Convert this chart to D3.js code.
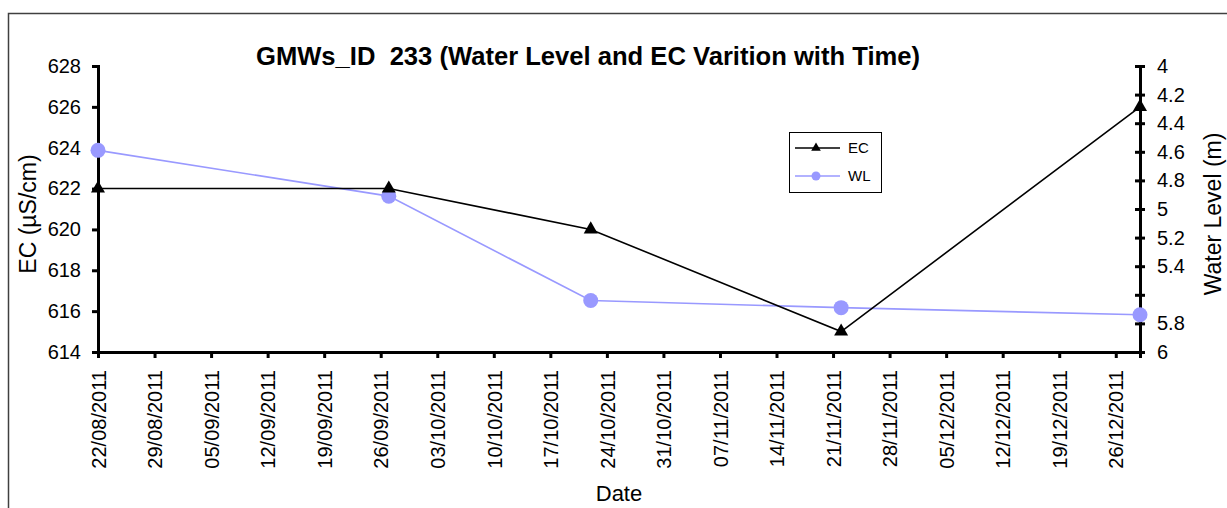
<!DOCTYPE html>
<html><head><meta charset="utf-8">
<script src="https://cdn.jsdelivr.net/npm/d3@7"></script>
<style>
html,body{margin:0;padding:0;background:#fff;}
text{font-family:"Liberation Sans",Arial,sans-serif;fill:#000;}
</style></head>
<body>
<svg id="chart" width="1227" height="508"></svg>
<script>
// ---- data ----
const dates = ["22/08/2011","27/09/2011","22/10/2011","22/11/2011","29/12/2011"];
const ecValues = [622, 622, 620, 615, 626];
const wlValues = [4.59, 4.91, 5.64, 5.69, 5.74];
const ecTicks = [614, 616, 618, 620, 622, 624, 626, 628];
const wlTicks = [4, 4.2, 4.4, 4.6, 4.8, 5, 5.2, 5.4, 5.6, 5.8, 6];
const wlHiddenLabels = [5.6];
const dateTicks = ["22/08/2011","29/08/2011","05/09/2011","12/09/2011","19/09/2011","26/09/2011","03/10/2011","10/10/2011","17/10/2011","24/10/2011","31/10/2011","07/11/2011","14/11/2011","21/11/2011","28/11/2011","05/12/2011","12/12/2011","19/12/2011","26/12/2011"];
const dateDomain = ["22/08/2011","29/12/2011"];
const titleText = "GMWs_ID  233 (Water Level and EC Varition with Time)";
const seriesNames = ["EC","WL"];

const parse = d3.timeParse("%d/%m/%Y");
const fmt = d3.timeFormat("%d/%m/%Y");
const svg = d3.select("#chart");

const L = 98, R = 1140, T = 66, B = 352;
const x = d3.scaleTime().domain(dateDomain.map(parse)).range([L, R]);
const yEC = d3.scaleLinear().domain([614, 628]).range([B, T]);
const yWL = d3.scaleLinear().domain([6, 4]).range([B, T]);

// frame
svg.append("rect").attr("x",8.5).attr("y",13.5).attr("width",1300).attr("height",600)
  .attr("fill","none").attr("stroke","#404040").attr("stroke-width",1.5);

// title
svg.append("text").attr("x",588).attr("y",65).attr("text-anchor","middle")
  .style("white-space","pre").attr("xml:space","preserve")
  .attr("textLength",664).attr("lengthAdjust","spacingAndGlyphs")
  .attr("font-size",25).attr("font-weight","bold").text(titleText);

// left axis
const gl = svg.append("g").attr("transform",`translate(${L},0)`)
  .call(d3.axisLeft(yEC).tickValues(ecTicks).tickSize(6).tickPadding(11).tickFormat(d3.format("d")));
gl.select(".domain").attr("stroke","#000").attr("stroke-width",3);
gl.selectAll(".tick line").attr("stroke","#000").attr("stroke-width",3);
gl.selectAll(".tick text").attr("font-size",20).attr("font-family","Liberation Sans, Arial, sans-serif");

// right axis
const gr = svg.append("g").attr("transform",`translate(${R},0)`)
  .call(d3.axisRight(yWL).tickValues(wlTicks).tickSize(5).tickPadding(12)
    .tickFormat(d => wlHiddenLabels.includes(d) ? "" : d3.format("~g")(d)));
gr.select(".domain").attr("stroke","#000").attr("stroke-width",3);
gr.selectAll(".tick line").attr("x1",-5).attr("stroke","#000").attr("stroke-width",3);
gr.selectAll(".tick text").attr("font-size",20).attr("font-family","Liberation Sans, Arial, sans-serif");

// bottom axis
const gb = svg.append("g").attr("transform",`translate(0,${B})`)
  .call(d3.axisBottom(x).tickValues(dateTicks.map(parse)).tickSize(6).tickFormat(fmt));
gb.select(".domain").attr("stroke","#000").attr("stroke-width",3);
gb.selectAll(".tick line").attr("stroke","#000").attr("stroke-width",3);
gb.selectAll(".tick text").attr("font-size",20).attr("font-family","Liberation Sans, Arial, sans-serif")
  .attr("transform","rotate(-90)").attr("text-anchor","end")
  .attr("x",-18).attr("y",0).attr("dy","0.36em");

// axis titles
svg.append("text").attr("transform","translate(36,214) rotate(-90)").attr("text-anchor","middle")
  .attr("font-size",23).text("EC (µS/cm)");
svg.append("text").attr("transform","translate(1221,214) rotate(-90)").attr("text-anchor","middle")
  .attr("font-size",23).text("Water Level (m)");
svg.append("text").attr("x",619).attr("y",501).attr("text-anchor","middle")
  .attr("font-size",22).text("Date");

const ecData = dates.map((d,i)=>({d:parse(d), v:ecValues[i]}));
const wlData = dates.map((d,i)=>({d:parse(d), v:wlValues[i]}));

// WL series
svg.append("path").datum(wlData).attr("fill","none").attr("stroke","#9999FF").attr("stroke-width",1.6)
  .attr("d", d3.line().x(d=>x(d.d)).y(d=>yWL(d.v)));
svg.selectAll("circle.wl").data(wlData).join("circle").attr("class","wl")
  .attr("cx",d=>x(d.d)).attr("cy",d=>yWL(d.v)).attr("r",7.5).attr("fill","#9999FF");

// EC series
svg.append("path").datum(ecData).attr("fill","none").attr("stroke","#000").attr("stroke-width",1.6)
  .attr("d", d3.line().x(d=>x(d.d)).y(d=>yEC(d.v)));
const tri = d3.symbol().type(d3.symbolTriangle).size(85);
svg.selectAll("path.ec").data(ecData).join("path").attr("class","ec")
  .attr("transform",d=>`translate(${x(d.d)},${yEC(d.v)})`).attr("d",tri).attr("fill","#000");

// legend
const lg = svg.append("g");
lg.append("rect").attr("x",789.5).attr("y",132.5).attr("width",92).attr("height",60)
  .attr("fill","#fff").attr("stroke","#000").attr("stroke-width",1);
const rows = [{n:seriesNames[0], y:148, c:"#000"},{n:seriesNames[1], y:176, c:"#9999FF"}];
rows.forEach((r,i)=>{
  lg.append("line").attr("x1",795).attr("x2",840).attr("y1",r.y).attr("y2",r.y)
    .attr("stroke",r.c).attr("stroke-width",1.6);
  if(i===0){
    lg.append("path").attr("transform",`translate(816,${r.y})`)
      .attr("d",d3.symbol().type(d3.symbolTriangle).size(40)).attr("fill","#000");
  } else {
    lg.append("circle").attr("cx",816).attr("cy",r.y).attr("r",4.5).attr("fill","#9999FF");
  }
  lg.append("text").attr("x",848).attr("y",r.y).attr("dy","0.36em").attr("font-size",15).text(r.n);
});
</script>
</body></html>
